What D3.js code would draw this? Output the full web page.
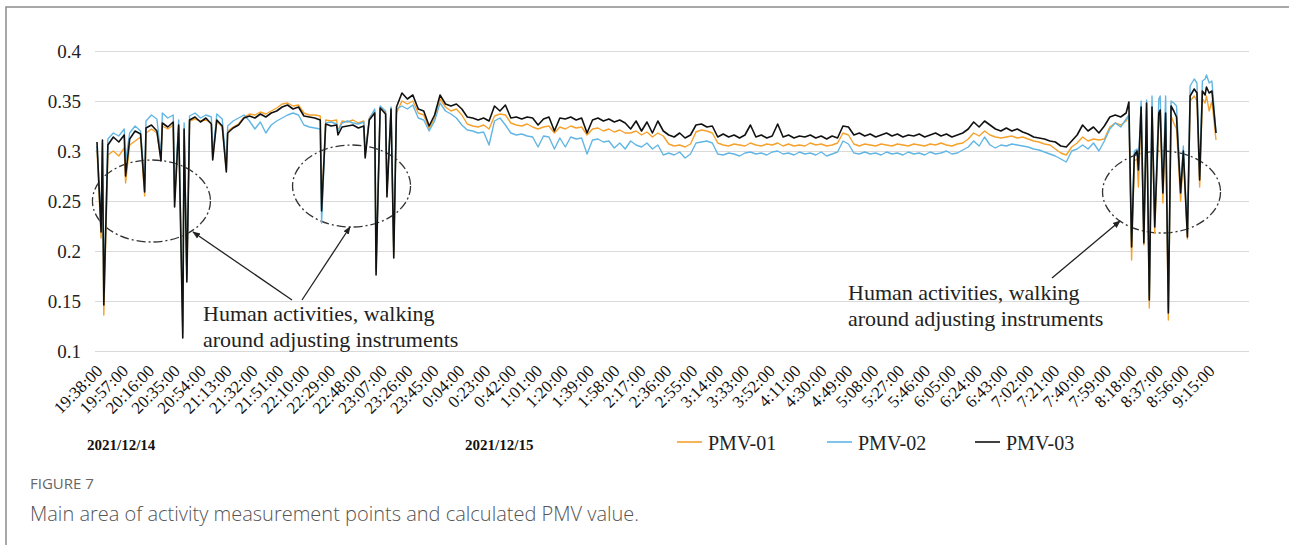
<!DOCTYPE html>
<html>
<head>
<meta charset="utf-8">
<script src="https://cdn.jsdelivr.net/npm/d3@7"></script>
<style>
  body { margin: 0; background: #fff; }
  svg { display: block; }
</style>
</head>
<body>
<svg id="chart" width="1289" height="545"></svg>
<script>
// readings every 4 minutes from 19:38 (value x 1000)
const STEP = 4;

const pmv01Base = [
  301,300,296,300,295,303,306,310,314,318,
  322,318,325,322,326,324,320,330,332,330,
  331,328,330,324,320,324,327,334,337,336,
  339,337,340,343,347,348,345,346,338,336,
  336,335,331,330,331,330,329,331,328,330,
  333,340,344,338,340,338,350,347,350,338,
  336,322,333,352,344,340,342,336,327,325,
  324,326,322,335,337,336,328,326,325,327,
  324,322,324,325,318,324,322,325,323,324,
  316,322,323,320,322,319,321,318,318,320,
  316,319,314,318,315,307,305,306,304,307,
  319,321,320,318,308,306,305,307,306,305,
  308,306,305,307,306,308,305,307,305,306,
  305,308,306,307,305,306,308,318,316,307,
  305,307,306,305,307,306,305,307,306,305,
  307,306,305,307,306,308,306,305,307,308,
  312,318,315,320,316,314,313,314,315,313,
  314,312,310,309,307,306,302,298,296,304,
  308,314,310,312,311,312,324,328,326,330
];
const pmv02Base = [
  305,308,312,318,315,322,318,325,320,330,
  336,332,338,333,336,331,328,335,338,333,
  336,334,337,332,325,330,333,336,330,322,
  329,318,326,330,333,336,338,336,326,324,
  323,322,328,329,327,328,330,328,327,329,
  332,342,345,340,344,342,345,342,346,333,
  331,320,330,348,340,337,333,326,321,320,
  318,319,306,330,333,326,318,316,317,315,
  314,304,315,314,302,313,304,314,312,313,
  297,311,312,309,310,303,308,302,310,306,
  304,308,302,306,296,298,296,299,293,297,
  308,309,310,308,297,296,298,297,295,298,
  299,297,298,296,299,300,297,298,296,299,
  297,298,296,299,295,297,299,310,307,298,
  297,299,297,298,296,299,297,298,296,299,
  297,298,296,299,297,298,300,297,298,301,
  304,310,305,314,306,303,306,305,307,306,
  305,304,302,301,299,297,295,292,289,300,
  302,306,302,308,300,310,322,328,324,332
];
const pmv03Base = [
  309,311,306,314,309,316,312,320,317,323,
  326,320,328,324,329,326,322,331,334,329,
  333,327,331,325,318,323,326,333,335,333,
  337,334,338,340,344,346,342,344,335,334,
  333,331,327,325,326,324,325,326,323,325,
  331,338,343,337,342,344,358,352,356,342,
  340,325,336,356,347,345,347,342,334,333,
  331,333,330,345,340,346,333,334,332,334,
  333,326,332,334,320,333,332,334,331,333,
  318,331,333,330,332,329,331,328,322,330,
  320,329,318,330,320,316,314,318,313,316,
  326,327,324,325,314,317,314,316,313,316,
  326,314,316,313,315,327,314,316,313,315,
  314,316,313,315,312,315,313,325,324,316,
  318,315,317,314,316,318,315,317,314,316,
  315,317,314,316,318,315,317,314,316,318,
  322,329,324,330,326,322,320,323,320,322,
  319,317,314,313,312,310,309,305,304,310,
  316,326,320,324,318,325,334,336,334,338
];

// [minute, value x 1000] short dips during the evening
const pmv01Dips = [[3,213],[5,136],[21,268],[35,255],[47,292],[57,250],[63,118],[66,172],[85,293],[95,281],
  [165,245],[177,320],[197,296],[205,180],[213,258],[218,197]];
const pmv02Dips = [[3,230],[5,160],[21,290],[35,268],[47,295],[57,252],[63,125],[66,175],[85,296],[95,284],
  [165,228],[177,320],[197,296],[205,182],[213,260],[218,200]];
const pmv03Dips = [[3,219],[5,146],[21,275],[35,259],[47,290],[57,244],[63,113],[66,169],[85,291],[95,279],
  [165,240],[177,316],[197,293],[205,176],[213,254],[218,193]];

// [minute, value x 1000] morning readings
const pmv01Tail = [[758,335],[760,191],[762,290],[764,292],[765,264],[767,338],[769,206],[771,342],[773,143],[775,338],
  [777,218],[780,330],[781,334],[783,248],[785,330],[787,131],[789,335],[791,328],[793,322],[796,250],
  [798,295],[801,212],[803,350],[806,355],[808,350],[810,264],[812,352],[814,348],[815,355],[817,340],[819,350],[822,311]];
const pmv02Tail = [[758,336],[760,210],[762,300],[764,302],[765,285],[767,350],[769,212],[771,351],[773,155],[775,355],
  [777,228],[780,352],[781,355],[783,262],[785,355],[787,142],[789,350],[791,348],[793,345],[796,262],
  [798,305],[801,218],[803,365],[806,372],[808,368],[810,275],[812,370],[814,372],[815,376],[817,368],[819,370],[822,318]];
const pmv03Tail = [[758,349],[760,204],[762,296],[764,300],[765,281],[767,344],[769,208],[771,348],[773,151],[775,344],
  [777,224],[780,338],[781,341],[783,258],[785,338],[787,138],[789,345],[791,340],[793,334],[796,258],
  [798,300],[801,214],[803,355],[806,362],[808,358],[810,271],[812,360],[814,356],[815,364],[817,358],[819,360],[822,318]];

const timeLabels = ["19:38:00","19:57:00","20:16:00","20:35:00","20:54:00","21:13:00","21:32:00","21:51:00",
  "22:10:00","22:29:00","22:48:00","23:07:00","23:26:00","23:45:00","0:04:00","0:23:00","0:42:00","1:01:00",
  "1:20:00","1:39:00","1:58:00","2:17:00","2:36:00","2:55:00","3:14:00","3:33:00","3:52:00","4:11:00",
  "4:30:00","4:49:00","5:08:00","5:27:00","5:46:00","6:05:00","6:24:00","6:43:00","7:02:00","7:21:00",
  "7:40:00","7:59:00","8:18:00","8:37:00","8:56:00","9:15:00"];
const labelEvery = 19;
const yTicks = [0.1, 0.15, 0.2, 0.25, 0.3, 0.35, 0.4];
const seriesNames = ["PMV-01", "PMV-02", "PMV-03"];
const seriesColors = ["#f5a12c", "#62b6e4", "#111111"];

function buildSeries(base, dips, tail) {
  const pts = base.map((v, i) => ({ m: i * STEP, v: v / 1000 }));
  dips.concat(tail).forEach(([m, v]) => pts.push({ m: m, v: v / 1000 }));
  return pts.sort((a, b) => a.m - b.m);
}

const series = [
  buildSeries(pmv01Base, pmv01Dips, pmv01Tail),
  buildSeries(pmv02Base, pmv02Dips, pmv02Tail),
  buildSeries(pmv03Base, pmv03Dips, pmv03Tail)
];

const svg = d3.select("#chart");
const serif = "'Liberation Serif', 'Times New Roman', serif";

// frame of the figure
svg.append("path")
  .attr("d", "M6,545 V7 H1289")
  .attr("fill", "none")
  .attr("stroke", "#8c8c8c")
  .attr("stroke-width", 1.5);

const x = d3.scaleLinear().domain([0, 822]).range([97, 1216]);
const y = d3.scaleLinear().domain([0.1, 0.4]).range([351, 51]);
const gridLeft = 95, gridRight = 1249;

// y axis + gridlines
const yAxis = svg.append("g")
  .attr("transform", `translate(${gridLeft},0)`)
  .call(d3.axisLeft(y).tickValues(yTicks).tickSize(-(gridRight - gridLeft)).tickPadding(14).tickFormat(d => String(d)));
yAxis.select(".domain").remove();
yAxis.selectAll("line").attr("stroke", "#d9d9d9").attr("stroke-width", 1.2);
yAxis.selectAll("text")
  .attr("fill", "#222")
  .style("font-family", serif)
  .style("font-size", "19px");

// x axis labels
const xAxis = svg.append("g")
  .attr("transform", "translate(0,372)")
  .call(d3.axisBottom(x).tickValues(timeLabels.map((t, i) => i * labelEvery))
    .tickSize(0).tickFormat((d, i) => timeLabels[i]));
xAxis.select(".domain").remove();
xAxis.selectAll("text")
  .attr("x", 0).attr("y", 0).attr("dy", 0)
  .attr("transform", "translate(6,0) rotate(-45)")
  .style("text-anchor", "end")
  .attr("fill", "#111")
  .style("font-family", serif)
  .style("font-size", "17px");

// date labels
svg.selectAll(".date")
  .data([{ m: 0, t: "2021/12/14", dx: -10 }, { m: 266, t: "2021/12/15", dx: 6 }])
  .join("text")
  .attr("class", "date")
  .attr("x", d => x(d.m) + d.dx)
  .attr("y", 450)
  .attr("fill", "#111")
  .style("font-family", serif)
  .style("font-size", "15px")
  .style("font-weight", "bold")
  .text(d => d.t);

// ellipses marking human activity
const ellipses = [{ m: 40, v: 0.25 }, { m: 187, v: 0.265 }, { m: 782, v: 0.259 }];
svg.selectAll(".zone")
  .data(ellipses)
  .join("ellipse")
  .attr("class", "zone")
  .attr("cx", d => x(d.m))
  .attr("cy", d => y(d.v))
  .attr("rx", 59)
  .attr("ry", 41)
  .attr("fill", "none")
  .attr("stroke", "#333")
  .attr("stroke-width", 1.3)
  .attr("stroke-dasharray", "9,3,2,3");

// lines
const line = d3.line().x(d => x(d.m)).y(d => y(d.v));
svg.selectAll(".series")
  .data(series)
  .join("path")
  .attr("class", "series")
  .attr("d", line)
  .attr("fill", "none")
  .attr("stroke", (d, i) => seriesColors[i])
  .attr("stroke-width", (d, i) => i === 2 ? 1.6 : 1.4)
  .attr("stroke-linejoin", "round");

// arrows + annotation text
svg.append("defs").append("marker")
  .attr("id", "head")
  .attr("viewBox", "0 0 10 10")
  .attr("refX", 9).attr("refY", 5)
  .attr("markerWidth", 6).attr("markerHeight", 6)
  .attr("orient", "auto")
  .append("path").attr("d", "M0,1 L10,5 L0,9 z").attr("fill", "#222");

const arrows = [
  { x1: 292, y1: 300, x2: 193, y2: 232 },
  { x1: 302, y1: 300, x2: 350, y2: 227 },
  { x1: 1052, y1: 278, x2: 1120, y2: 221 }
];
svg.selectAll(".arrow")
  .data(arrows)
  .join("line")
  .attr("class", "arrow")
  .attr("x1", d => d.x1).attr("y1", d => d.y1)
  .attr("x2", d => d.x2).attr("y2", d => d.y2)
  .attr("stroke", "#222")
  .attr("stroke-width", 1.3)
  .attr("marker-end", "url(#head)");

const notes = [{ x: 203, y: 321 }, { x: 848, y: 300 }];
notes.forEach(n => {
  const t = svg.append("text")
    .attr("fill", "#222")
    .style("font-family", serif)
    .style("font-size", "22px");
  t.append("tspan").attr("x", n.x).attr("y", n.y).text("Human activities, walking");
  t.append("tspan").attr("x", n.x).attr("y", n.y + 26).text("around adjusting instruments");
});

// legend
const legendX = [677, 827, 975];
const legend = svg.selectAll(".legend")
  .data(seriesNames)
  .join("g")
  .attr("class", "legend")
  .attr("transform", (d, i) => `translate(${legendX[i]},442)`);
legend.append("line")
  .attr("x1", 0).attr("x2", 25)
  .attr("stroke", (d, i) => seriesColors[i])
  .attr("stroke-width", 1.6);
legend.append("text")
  .attr("x", 31).attr("y", 8)
  .attr("fill", "#222")
  .style("font-family", serif)
  .style("font-size", "20px")
  .text(d => d);

// caption
svg.append("text")
  .attr("x", 30).attr("y", 489)
  .attr("fill", "#666")
  .style("font-family", "'Open Sans', sans-serif")
  .style("font-size", "15px")
  .text("FIGURE 7");
svg.append("text")
  .attr("x", 30).attr("y", 521)
  .attr("fill", "#555")
  .style("font-family", "'Open Sans', sans-serif")
  .style("font-size", "20px")
  .style("font-weight", 300)
  .text("Main area of activity measurement points and calculated PMV value.");
</script>
</body>
</html>
